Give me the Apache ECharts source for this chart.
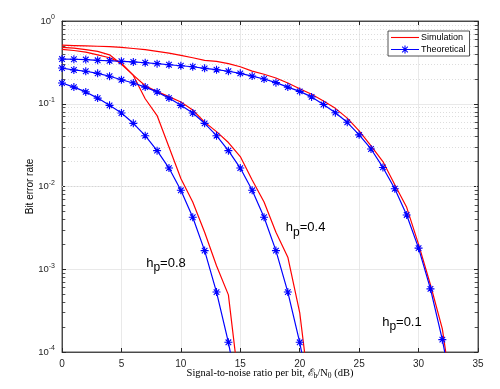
<!DOCTYPE html>
<html><head><meta charset="utf-8">
<script src="https://cdn.jsdelivr.net/npm/echarts@6/dist/echarts.min.js"></script>
<style>html,body{margin:0;padding:0;background:#fff}#c{width:500px;height:389px}</style>
</head><body><div id="c"></div>
<script>
// ---- data ----
const snrTheo08 = [0,1,2,3,4,5,6,7,8,9,10,11,12,13,14,15];
const theo08 = [0.178,0.159,0.139,0.117,0.0957,0.0773,0.058,0.0411,0.0271,0.0167,0.0090,0.00425,0.00168,5.3e-4,1.31e-4,2.3e-5];
const snrTheo04 = [0,1,2,3,4,5,6,7,8,9,10,11,12,13,14,15,16,17,18,19,20,21];
const theo04 = [0.27,0.256,0.247,0.233,0.215,0.195,0.178,0.159,0.139,0.117,0.0957,0.0773,0.058,0.0411,0.0271,0.0167,0.0090,0.00425,0.00168,5.3e-4,1.31e-4,2.3e-5];
const snrTheo01 = [0,1,2,3,4,5,6,7,8,9,10,11,12,13,14,15,16,17,18,19,20,21,22,23,24,25,26,27,28,29,30,31,32,33];
const theo01 = [0.347,0.345,0.342,0.335,0.331,0.326,0.32,0.313,0.305,0.296,0.288,0.28,0.268,0.258,0.247,0.233,0.216,0.199,0.18,0.159,0.141,0.121,0.098,0.078,0.0597,0.0421,0.0284,0.017,0.0094,0.00453,0.0018,5.8e-4,1.41e-4,2.5e-5];

const snrSim08 = [0,1,2,3,4,5,6,7,8,9,10,11,12,13,14,15];
const sim08 = [0.455,0.44,0.42,0.39,0.36,0.31,0.22,0.115,0.072,0.03,0.0125,0.0065,0.0028,0.0011,4.9e-4,3e-5];
const snrSim04 = [0,1,2,3,4,5,6,7,8,9,10,11,12,13,14,15,16,17,18,19,20,21];
const sim04 = [0.48,0.47,0.45,0.43,0.39,0.30,0.222,0.165,0.14,0.122,0.105,0.084,0.06,0.046,0.034,0.023,0.012,0.0065,0.0028,0.0014,3e-4,2e-5];
const snrSim01 = [0,1,2,3,4,5,6,7,8,9,10,11,12,13,14,15,16,17,18,19,20,21,22,23,24,25,26,27,28,29,30,31,32,33];
const sim01 = [0.51,0.505,0.50,0.495,0.49,0.48,0.465,0.45,0.43,0.41,0.385,0.36,0.335,0.325,0.305,0.28,0.248,0.227,0.205,0.178,0.152,0.13,0.108,0.088,0.067,0.047,0.031,0.02,0.0105,0.0056,0.002,6.5e-4,1.9e-4,2e-5];

const xTicks = [0,5,10,15,20,25,30,35];
const legendNames = ['Simulation','Theoretical'];
const curveLabels = [
  {text:'0.8', x:8.75, y:1.19e-3},
  {text:'0.4', x:20.5, y:3.16e-3},
  {text:'0.1', x:28.6, y:2.3e-4}
];

// ---- chart ----
const RED = '#ff0000', BLUE = '#0000ff', AX = '#262626';
const ASTER = 'path://M5,0L5,10M0,5L10,5M1.5,1.5L8.5,8.5M1.5,8.5L8.5,1.5';
const ICON_LINE = 'path://M0,4.45H28V5.55H0Z';
const ICON_LINE_ASTER = 'path://M0,4.45H28V5.55H0Z' +
  'M13.45,1H14.55V9H13.45Z' +
  'M10,4.45H18V5.55H10Z' +
  'M10.8,2.5L11.5,1.8L17.2,7.5L16.5,8.2Z' +
  'M16.5,1.8L17.2,2.5L11.5,8.2L10.8,7.5Z';
const zip = (xs, ys) => xs.map((x,i)=>[x, ys[i]]);

const minorVals = [];
for (let e=-4; e<0; e++) for (let m=2; m<=9; m++) minorVals.push(m*Math.pow(10,e));

const chart = echarts.init(document.getElementById('c'), null, {renderer:'canvas'});

function simSeries(xs, ys){
  return {name:legendNames[0], type:'line', data:zip(xs,ys), symbol:'none',
    lineStyle:{color:RED, width:1.2}, itemStyle:{color:RED}, z:3, clip:true, animation:false};
}
function theoSeries(xs, ys){
  return {name:legendNames[1], type:'line', data:zip(xs,ys), symbol:ASTER, symbolSize:8, showSymbol:true,
    lineStyle:{color:BLUE, width:1.2}, itemStyle:{color:BLUE, borderColor:BLUE, borderWidth:1.1}, z:4, clip:true, animation:false};
}

const series = [
  simSeries(snrSim01, sim01), simSeries(snrSim04, sim04), simSeries(snrSim08, sim08),
  theoSeries(snrTheo01, theo01), theoSeries(snrTheo04, theo04), theoSeries(snrTheo08, theo08)
];

// minor grid lines and minor ticks (log decades)
const mlData = [];
minorVals.forEach(v=>{
  mlData.push({yAxis:v, lineStyle:{color:'#d4d4d4', type:[1,2], width:0.8}});
  mlData.push([{coord:[0,v], lineStyle:{color:AX, type:'solid', width:0.8}},{coord:[0.28,v]}]);
  mlData.push([{coord:[34.72,v], lineStyle:{color:AX, type:'solid', width:0.8}},{coord:[35,v]}]);
});
series[0].markLine = {silent:true, symbol:['none','none'], label:{show:false}, animation:false, data:mlData, z:1};

// curve labels
series[5].markPoint = {silent:true, symbol:'circle', symbolSize:0, animation:false,
  label:{show:true, position:'inside', color:'#000', fontFamily:'Liberation Sans, Arial, sans-serif',
    formatter: p => '{a|h}{s|p}{a|=' + p.data.name + '}',
    rich:{a:{fontSize:13, color:'#000'}, s:{fontSize:12, color:'#000', padding:[9,0,0,0]}}},
  data: curveLabels.map(c=>({name:c.text, coord:[c.x, c.y]}))
};

const font = 'Liberation Sans, Arial, Helvetica, sans-serif';

chart.setOption({
  animation:false,
  backgroundColor:'#ffffff',
  grid:{left:62, right:22, top:21, bottom:37, show:true, borderColor:AX, borderWidth:0.8, backgroundColor:'#fff'},
  legend:{
    orient:'vertical', left:388, top:31,
    data:[
      {name:legendNames[0], icon:ICON_LINE, itemStyle:{color:RED, borderWidth:0}},
      {name:legendNames[1], icon:ICON_LINE_ASTER, itemStyle:{color:BLUE, borderWidth:0}}
    ],
    itemWidth:28, itemHeight:8, itemGap:3, padding:[2,4,2,3],
    backgroundColor:'#fff', borderColor:AX, borderWidth:0.8,
    textStyle:{fontSize:9, color:'#000', fontFamily:font, padding:[0,0,0,-3]}
  },
  xAxis:[
    {type:'value', min:0, max:35, interval:5, position:'bottom',
     axisLine:{show:true, onZero:false, lineStyle:{color:AX, width:0.8}},
     axisTick:{show:true, inside:true, length:4, lineStyle:{color:AX}},
     axisLabel:{color:AX, fontSize:10, fontFamily:font, margin:7,
       formatter: v => xTicks.includes(v) ? String(v) : ''},
     splitLine:{show:true, lineStyle:{color:'#e3e3e3', width:0.8}},
     name:'{t|Signal-to-noise ratio per bit, ℰ}{sub|b}{t|/N}{sub|0}{t| (dB)}',
     nameLocation:'middle', nameGap:15, nameMoveOverlap:false,
     nameTextStyle:{rich:{
       t:{fontFamily:'Liberation Serif, DejaVu Serif, serif', fontSize:10.5, color:'#000'},
       sub:{fontFamily:'Liberation Serif, DejaVu Serif, serif', fontSize:7.5, color:'#000', padding:[5,0,0,0]}}}
    },
    {type:'value', min:0, max:35, interval:5, position:'top',
     axisLine:{show:true, onZero:false, lineStyle:{color:AX, width:0.8}},
     axisTick:{show:true, inside:true, length:4, lineStyle:{color:AX}},
     axisLabel:{show:false}, splitLine:{show:false}}
  ],
  yAxis:[
    {type:'log', logBase:10, min:1e-4, max:1, splitNumber:4, position:'left',
     axisLine:{show:true, onZero:false, lineStyle:{color:AX, width:0.8}},
     axisTick:{show:true, inside:true, length:4, lineStyle:{color:AX}},
     axisLabel:{color:AX, margin:7, fontFamily:font,
       formatter: v => { const e = Math.round(Math.log10(v)); return '{b|10}{s|' + e + '}'; },
       rich:{b:{fontSize:9.5, color:AX, fontFamily:font}, s:{fontSize:7, color:AX, fontFamily:font, padding:[0,0,7,0]}}},
     splitLine:{show:true, lineStyle:{color:'#e3e3e3', width:0.8}},
     name:'Bit error rate', nameLocation:'middle', nameGap:27, nameRotate:90, nameMoveOverlap:false,
     nameTextStyle:{fontSize:10, color:'#000', fontFamily:font}
    },
    {type:'log', logBase:10, min:1e-4, max:1, splitNumber:4, position:'right',
     axisLine:{show:true, onZero:false, lineStyle:{color:AX, width:0.8}},
     axisTick:{show:true, inside:true, length:4, lineStyle:{color:AX}},
     axisLabel:{show:false}, splitLine:{show:false}}
  ],
  series: series
});
</script>
</body></html>
